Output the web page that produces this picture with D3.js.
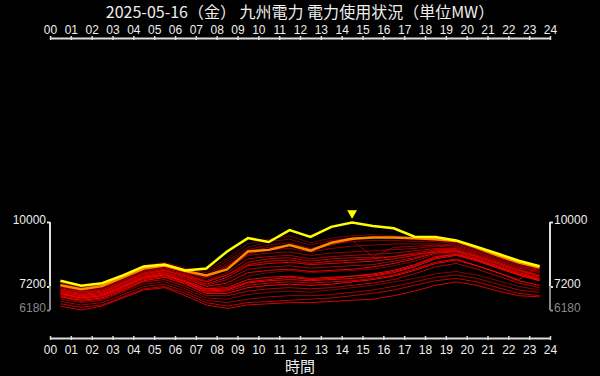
<!DOCTYPE html>
<html>
<head>
<meta charset="utf-8">
<script src="https://cdn.jsdelivr.net/npm/d3@7"></script>
<style>
html, body { margin: 0; background: #000; }
svg { display: block; font-family: "Noto Sans CJK JP", "Noto Sans", sans-serif; }
</style>
</head>
<body>
<div id="chart"></div>
<script>
// ---- data ----
const chartTitle = "2025-05-16（金） 九州電力 電力使用状況（単位MW）";
const xTitle = "時間";
const hourLabels = ["00","01","02","03","04","05","06","07","08","09","10","11","12",
                    "13","14","15","16","17","18","19","20","21","22","23","24"];
const yTicks = [6180, 7200, 10000];
const halfHours = [0.5,1.5,2.5,3.5,4.5,5.5,6.5,7.5,8.5,9.5,10.5,11.5,
                   12.5,13.5,14.5,15.5,16.5,17.5,18.5,19.5,20.5,21.5,22.5,23.5];

// today (yellow)
const today = [7450,7230,7340,7680,8070,8150,7900,7980,8720,9300,9130,9650,
               9350,9790,9975,9830,9730,9360,9350,9200,8920,8620,8320,8080];
// yesterday (orange)
const yesterday = [7255,7085,7225,7600,7980,8110,7870,7680,7940,8720,8790,9000,
                   8760,9100,9270,9330,9330,9290,9250,9180,8880,8540,8240,8020];
// earlier days, oldest first (red)
const pastDays = [
  [7400,7200,7300,7700,8100,8250,8000,7900,8400,9050,9250,9400,9100,9300,9400,9450,9400,9300,9250,9150,8900,8600,8300,8050],
  [7350,7150,7250,7650,8050,8200,7950,7800,8300,8900,9150,9250,9000,9200,9300,9350,9300,9250,9200,9100,8850,8550,8250,8000],
  [7000,6800,6900,7300,7700,7800,7500,7100,7250,7650,7800,7900,7800,7850,7900,7950,8100,8300,8600,8650,8400,8050,7750,7500],
  [7300,7100,7200,7600,8000,8150,7900,7700,8200,8800,9000,9100,8850,9050,9150,9200,9200,9150,9150,9050,8800,8500,8200,7950],
  [6650,6500,6600,6950,7300,7400,7100,6700,6650,6850,6950,7000,6950,7050,7150,7250,7400,7550,7750,7850,7700,7450,7200,7050],
  [7250,7100,7200,7550,7950,8100,7800,7600,8050,8600,8800,8850,8700,8850,8950,9000,9050,9050,9050,9000,8750,8450,8150,7900],
  [7200,7000,7100,7500,7900,8050,7800,7550,7950,8550,8650,8700,8550,8650,8700,8750,8800,8850,8950,8900,8650,8350,8050,7850],
  [7250,7050,7150,7550,7950,8100,7850,7650,8100,8700,8900,9000,8800,9000,9200,8500,8900,8950,9000,8950,8700,8400,8100,7900],
  [6550,6400,6500,6850,7200,7300,7000,6600,6500,6650,6750,6800,6800,6850,6950,7050,7200,7400,7600,7700,7550,7300,7050,6950],
  [7150,6950,7050,7450,7850,8000,7750,7450,7800,8400,8500,8550,8400,8500,8550,8600,8650,8750,8850,8850,8600,8300,8000,7800],
  [7000,6850,6950,7300,7700,7850,7600,7250,7500,7950,8050,8100,8000,8050,8100,8150,8300,8450,8700,8750,8450,8150,7850,7600],
  [6750,6550,6650,7000,7400,7500,7200,6800,6800,7000,7100,7150,7100,7150,7250,7350,7500,7750,8050,8200,7950,7650,7350,7150],
  [6450,6300,6400,6750,7100,7200,6900,6500,6350,6500,6550,6600,6650,6700,6800,6900,7050,7250,7450,7550,7400,7150,6900,6800],
  [7100,6950,7050,7400,7800,7950,7700,7400,7700,8250,8400,8450,8300,8400,8450,8450,8500,8650,8800,8800,8550,8250,7950,7700],
  [6800,6650,6750,7100,7500,7650,7350,6950,7000,7250,7350,7400,7350,7400,7450,7550,7700,7950,8250,8400,8100,7800,7500,8100],
  [7050,6850,6950,7350,7750,7900,7650,7400,7700,8150,8300,8350,8200,8300,8350,8400,8500,8600,8700,8750,8500,8200,7900,7650],
  [6350,6180,6350,6700,7050,7150,6800,6400,6250,6400,6450,6500,6500,6550,6600,6650,6800,7000,7250,7400,7250,7000,6800,6750],
  [7050,6900,7000,7350,7750,7900,7650,7300,7600,8100,8200,8250,8150,8200,8250,8300,8400,8550,8750,8750,8500,8200,7900,7650],
  [6950,6800,6900,7250,7650,7800,7550,7200,7350,7800,7900,7950,7850,7900,7950,8050,8200,8400,8650,8700,8400,8100,7800,7550],
  [6900,6700,6800,7200,7600,7700,7400,7050,7100,7400,7500,7600,7500,7550,7650,7700,7850,8100,8450,8600,8350,8000,7700,7450],
  [6900,6750,6850,7200,7600,7750,7450,7100,7150,7500,7600,7650,7550,7600,7650,7750,7900,8150,8500,8600,8350,8050,7750,7500],
  [6850,6700,6800,7150,7550,7700,7400,7000,7050,7350,7450,7500,7450,7500,7550,7650,7800,8050,8400,8550,8300,8000,7700,7450],
  [6750,6600,6700,7050,7450,7600,7300,6900,6900,7150,7250,7300,7250,7300,7400,7500,7650,7900,8200,8350,8100,7800,7450,7250]
];

// ---- chart ----
const W = 600, H = 376;
const svg = d3.select("#chart").append("svg")
    .attr("width", W).attr("height", H);

svg.append("rect").attr("width", W).attr("height", H).attr("fill", "#000");

const x = d3.scaleLinear().domain([0, 24]).range([50, 550]);
const y = d3.scaleLinear().domain([6180, 10000]).range([310, 222]);

const axisColor = "#dddddd";

// title
svg.append("text")
    .attr("x", 300).attr("y", 18)
    .attr("text-anchor", "middle")
    .attr("fill", "#eeeeee")
    .attr("font-size", "16px")
    .text(chartTitle);

// top & bottom hour axes
function styleHourAxis(g, dir) {
    g.select(".domain").attr("stroke", axisColor).attr("stroke-width", 2);
    g.selectAll(".tick line").attr("stroke", axisColor).attr("stroke-width", 1.5);
    g.selectAll(".tick line").clone().attr("y2", dir * 2);
    g.selectAll(".tick text").attr("fill", "#eeeeee").attr("font-size", "12px");
}

svg.append("g")
    .attr("transform", "translate(0,38)")
    .call(d3.axisTop(x).tickValues(d3.range(25)).tickFormat(i => hourLabels[i])
        .tickSizeInner(2).tickSizeOuter(0).tickPadding(2))
    .call(g => styleHourAxis(g, 1));

svg.append("g")
    .attr("transform", "translate(0,338)")
    .call(d3.axisBottom(x).tickValues(d3.range(25)).tickFormat(i => hourLabels[i])
        .tickSizeInner(2).tickSizeOuter(0).tickPadding(5))
    .call(g => styleHourAxis(g, -1));

svg.append("text")
    .attr("x", 300).attr("y", 372)
    .attr("text-anchor", "middle")
    .attr("fill", "#eeeeee")
    .attr("font-size", "15px")
    .text(xTitle);

// value axes (left and right)
const lowColor = "#888888";
function drawValueAxis(xPos, axisFn) {
    const g = svg.append("g").attr("transform", `translate(${xPos},0)`);
    g.call(axisFn(y).tickValues(yTicks).tickFormat(d3.format("d")).tickSize(3).tickPadding(1));
    g.select(".domain").remove();
    g.selectAll(".tick line")
        .attr("stroke", d => d === yTicks[0] ? lowColor : axisColor)
        .attr("stroke-width", 2);
    g.selectAll(".tick text")
        .attr("dy", "0.1em")
        .attr("font-size", "12px")
        .attr("fill", d => d === yTicks[0] ? lowColor : "#eeeeee");
    g.append("line")
        .attr("y1", y(yTicks[2])).attr("y2", y(yTicks[1]))
        .attr("stroke", axisColor).attr("stroke-width", 2);
    g.append("line")
        .attr("y1", y(yTicks[1])).attr("y2", y(yTicks[0]))
        .attr("stroke", lowColor).attr("stroke-width", 2);
}
drawValueAxis(50, d3.axisLeft);
drawValueAxis(550, d3.axisRight);

// lines
const line = d3.line()
    .x((d, i) => x(halfHours[i]))
    .y(d => y(d));

const redScale = d3.interpolateRgb("#700000", "#ff0000");
svg.append("g")
    .selectAll("path")
    .data(pastDays)
    .join("path")
    .attr("fill", "none")
    .attr("stroke", (d, i) => redScale(i / (pastDays.length - 1)))
    .attr("stroke-width", 1)
    .attr("d", line);

svg.append("path")
    .datum(yesterday)
    .attr("fill", "none")
    .attr("stroke", "#ff8800")
    .attr("stroke-width", 2.5)
    .attr("d", line);

svg.append("path")
    .datum(today)
    .attr("fill", "none")
    .attr("stroke", "#ffff00")
    .attr("stroke-width", 2.5)
    .attr("d", line);

// peak marker
const peakIdx = d3.maxIndex(today);
svg.append("path")
    .attr("d", d3.symbol().type(d3.symbolTriangle).size(42)())
    .attr("transform", `translate(${x(halfHours[peakIdx])},${y(today[peakIdx]) - 9.5}) rotate(180)`)
    .attr("fill", "#ffff00");
</script>
</body>
</html>
